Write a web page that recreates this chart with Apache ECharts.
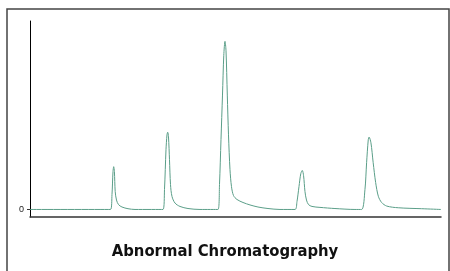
<!DOCTYPE html>
<html>
<head>
<meta charset="utf-8">
<script src="https://cdn.jsdelivr.net/npm/echarts@6/dist/echarts.min.js"></script>
<style>
  html, body { margin: 0; padding: 0; background: #fff; }
  #chart { width: 450px; height: 271px; }
</style>
</head>
<body>
<div id="chart"></div>
<script>
// retention time (min) and detector signal
var times = [
  0, 3.917, 3.990, 4.039, 4.073, 4.107, 4.146, 4.209, 4.306, 4.476, 4.769, 5.110,
  6.472, 6.545, 6.618, 6.666, 6.700, 6.739, 6.788, 6.837, 6.910, 7.056, 7.299, 7.688, 8.272,
  9.148, 9.221, 9.294, 9.367, 9.430, 9.489, 9.537, 9.601, 9.659, 9.732, 9.805, 9.902,
  10.072, 10.365, 10.705, 11.094, 11.581, 12.165,
  12.895, 12.992, 13.089, 13.177, 13.250, 13.313, 13.381, 13.454, 13.552, 13.722, 14.111, 14.840, 15.813,
  16.14, 16.30, 16.38, 16.46, 16.50, 16.59, 16.70, 16.82, 16.95, 17.11, 17.36, 17.92, 19.06, 20
];
var signal = [
  0, 0, 7.9, 20.1, 22.7, 20.1, 9.5, 5.0, 2.6, 1.3, 0.4, 0,
  0, 10.6, 31.7, 39.6, 41.0, 38.5, 26.4, 13.2, 6.9, 3.4, 1.6, 0.5, 0,
  0, 13.2, 37.0, 60.7, 81.8, 89.2, 84.5, 60.7, 39.6, 21.1, 12.1, 7.4,
  5.3, 3.7, 2.4, 1.3, 0.5, 0,
  0, 4.2, 12.1, 19.0, 20.7, 17.9, 9.5, 5.0, 2.6, 1.6, 1.1, 0.5, 0,
  0, 10.6, 24.8, 37.0, 38.4, 35.4, 24.8, 14.3, 7.0, 3.7, 1.8, 0.9, 0.4, 0
];
var yTicks = [0];
var chartTitle = 'Abnormal Chromatography';

var points = [];
for (var i = 0; i < times.length; i++) {
  points.push([times[i], signal[i]]);
}

var myChart = echarts.init(document.getElementById('chart'));
myChart.setOption({
  animation: false,
  title: {
    text: chartTitle,
    left: 'center',
    top: 238,
    textStyle: {
      fontFamily: 'Liberation Sans Narrow, DejaVu Sans Condensed, sans-serif',
      fontWeight: 'bold',
      fontSize: 16.5,
      color: '#111'
    }
  },
  graphic: [{
    type: 'rect',
    silent: true,
    shape: { x: 7, y: 9, width: 442, height: 300 },
    style: { fill: 'none', stroke: '#444', lineWidth: 1.5 }
  }],
  grid: { left: 30, right: 9, top: 21, bottom: 54 },
  xAxis: {
    type: 'value',
    min: 0,
    max: 20,
    axisLine: { show: true, onZero: false, lineStyle: { color: '#333', width: 1.5 } },
    axisTick: { show: false },
    axisLabel: { show: false },
    splitLine: { show: false }
  },
  yAxis: {
    type: 'value',
    min: -4,
    max: 100,
    axisLine: { show: true, lineStyle: { color: '#000', width: 1 } },
    axisTick: { show: true, length: 3, customValues: yTicks, lineStyle: { color: '#333' } },
    axisLabel: { show: true, customValues: yTicks, fontSize: 9, color: '#222', margin: 6,
                 fontFamily: 'Liberation Sans, sans-serif' },
    splitLine: { show: false }
  },
  series: [{
    type: 'line',
    data: points,
    showSymbol: false,
    smooth: 0.3,
    lineStyle: { color: '#5a9e88', width: 1 }
  }]
});
</script>
</body>
</html>
